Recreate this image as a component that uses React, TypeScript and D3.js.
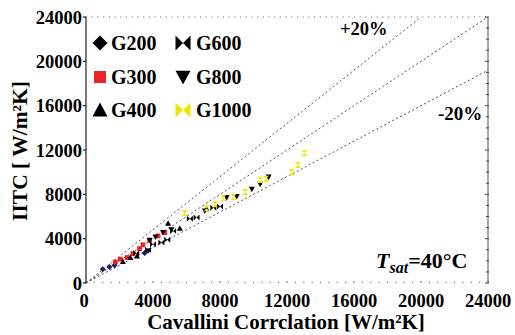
import React from "react";
import * as d3 from "d3";

const xTicks = [0, 4000, 8000, 12000, 16000, 20000, 24000];
const yTicks = [0, 4000, 8000, 12000, 16000, 20000, 24000];

const seriesNames = ["G200", "G300", "G400", "G600", "G800", "G1000"];
const seriesColors = ["#1e1e5c", "#e8262a", "#000000", "#000000", "#000000", "#f2e600"];
const seriesShapes = ["diamond", "square", "up", "bowtie", "down", "hourglass"];
const legendShapes = ["diamond", "square", "up", "bowtie", "down", "bowtie"];

const g200 = [[1000, 1250], [1400, 1450], [1700, 1600], [3500, 2700], [3700, 2900]];
const g300 = [[1750, 1900], [2050, 2150], [2450, 2300], [2800, 2650], [3200, 3100], [3400, 3450], [3800, 3850], [4300, 4250], [4700, 4550]];
const g400 = [[2200, 1950], [2650, 2300], [3050, 2450], [4900, 5400], [5600, 4950], [7200, 6700]];
const g600 = [[3000, 2700], [3700, 3000], [4000, 3500], [4500, 3650], [4850, 3900], [5200, 4700], [6200, 5800], [6600, 5900], [7600, 6800], [8000, 6900]];
const g800 = [[3800, 3850], [4150, 4150], [4600, 4550], [5100, 4800], [7100, 6500], [8400, 7700], [9000, 7800], [9900, 8450], [10400, 8900], [10900, 9550]];
const g1000 = [[5900, 6300], [7200, 6750], [7700, 7100], [8200, 7650], [8800, 7750], [9500, 8200], [10400, 9300], [10750, 9400], [12300, 10000], [12650, 10650], [13050, 11700]];
const seriesData = [g200, g300, g400, g600, g800, g1000];

const ratioLines = [1.2, 1.0, 0.8];

const W = 515, H = 335;
const M = { left: 86, right: 488, top: 17, bottom: 283 };

function shapePath(shape: string, s: number): string {
  switch (shape) {
    case "diamond":
      return `M0,${-s}L${s},0L0,${s}L${-s},0Z`;
    case "square":
      return `M${-s * 0.8},${-s * 0.8}H${s * 0.8}V${s * 0.8}H${-s * 0.8}Z`;
    case "up":
      return `M0,${-s}L${s},${s * 0.85}L${-s},${s * 0.85}Z`;
    case "down":
      return `M0,${s}L${s},${-s * 0.85}L${-s},${-s * 0.85}Z`;
    case "bowtie":
      return `M${-s},${-s}L${s},${s}L${s},${-s}L${-s},${s}Z`;
    case "hourglass":
      return `M${-s},${-s}L${s},${-s}L${-s},${s}L${s},${s}Z`;
  }
  return "";
}

export default function App() {
  const x = d3.scaleLinear().domain([0, 24000]).range([M.left, M.right]);
  const y = d3.scaleLinear().domain([0, 24000]).range([M.bottom, M.top]);
  const font = "Liberation Serif, DejaVu Serif, serif";
  const minor = d3.range(0, 24001, 1000);
  const dots = d3.range(0, 24001, 500);
  const ts = { fontFamily: font, fontWeight: 700 } as React.CSSProperties;

  return (
    <svg width={W} height={H} style={{ position: "absolute", left: 0, top: 0, background: "#fff", fontFamily: font }}>
      {ratioLines.map((r, i) => {
        const xEnd = Math.min(24000, 24000 / r);
        return (
          <line key={i} x1={x(0)} y1={y(0)} x2={x(xEnd)} y2={y(xEnd * r)}
            stroke="#555" strokeWidth={1} strokeDasharray="2,2.5" />
        );
      })}
      <line x1={M.left} y1={M.top} x2={M.right} y2={M.top} stroke="#777" strokeWidth={1.2} strokeDasharray="1.2,4.5" />
      {dots.map((v, i) => (
        <line key={"bd" + i} x1={x(v)} x2={x(v)} y1={M.bottom} y2={M.bottom - (v % 4000 === 0 ? 2 : 1.2)} stroke="#777" strokeWidth={1.1} />
      ))}
      <line x1={M.right} y1={M.top} x2={M.right} y2={M.bottom} stroke="#555" strokeWidth={1} />
      {minor.map((v, i) => (
        <line key={"rt" + i} x1={M.right - (v % 4000 === 0 ? 3 : 2)} x2={M.right + 1} y1={y(v)} y2={y(v)} stroke="#444" strokeWidth={1} />
      ))}
      <line x1={M.left} y1={M.top} x2={M.left} y2={M.bottom} stroke="#222" strokeWidth={1.2} />
      {yTicks.map((v, i) => (
        <g key={"yt" + i}>
          <line x1={M.left - 3} x2={M.left} y1={y(v)} y2={y(v)} stroke="#222" strokeWidth={1.2} />
          <text x={M.left - 4} y={y(v)} dy="0.36em" textAnchor="end" fontSize={18.5} style={ts}>{v}</text>
        </g>
      ))}
      {xTicks.map((v, i) => (
        <text key={"xt" + i} x={x(v) - (v === 0 ? 2 : 0)} y={307} textAnchor="middle" fontSize={18.5} style={ts}>{v}</text>
      ))}
      {seriesData.map((pts, si) => (
        <g key={"s" + si}>
          {pts.map((p, pi) => (
            <path key={pi} d={shapePath(seriesShapes[si], 3)} transform={`translate(${x(p[0])},${y(p[1])})`}
              fill={seriesColors[si]} />
          ))}
        </g>
      ))}
      {seriesNames.map((name, i) => {
        const col = Math.floor(i / 3);
        const row = i % 3;
        const mx = col === 0 ? 100 : 183;
        const tx = col === 0 ? 111 : 196;
        const base = [50, 84, 117][row];
        const legColor = i === 0 ? "#000" : seriesColors[i];
        return (
          <g key={"l" + i}>
            <path d={shapePath(legendShapes[i], 7.5)} transform={`translate(${mx},${base - 7})`} fill={legColor} />
            <text x={tx} y={base} fontSize={20} style={ts}>{name}</text>
          </g>
        );
      })}
      <text x={340} y={35} fontSize={18.5} style={ts}>+20%</text>
      <text x={438} y={120} fontSize={19} style={ts}>-20%</text>
      <text x={376} y={268} fontSize={22} style={ts}>
        <tspan fontStyle="italic">T</tspan>
        <tspan fontStyle="italic" fontSize={16} dy={5}>sat</tspan>
        <tspan dy={-5}>=40°C</tspan>
      </text>
      <text x={286} y={329} textAnchor="middle" fontSize={21} style={ts}>Cavallini Corrclation [W/m²K]</text>
      <text transform={`translate(27,151) rotate(-90)`} textAnchor="middle" fontSize={21.5} style={ts}>IITC [ W/m²K]</text>
    </svg>
  );
}
